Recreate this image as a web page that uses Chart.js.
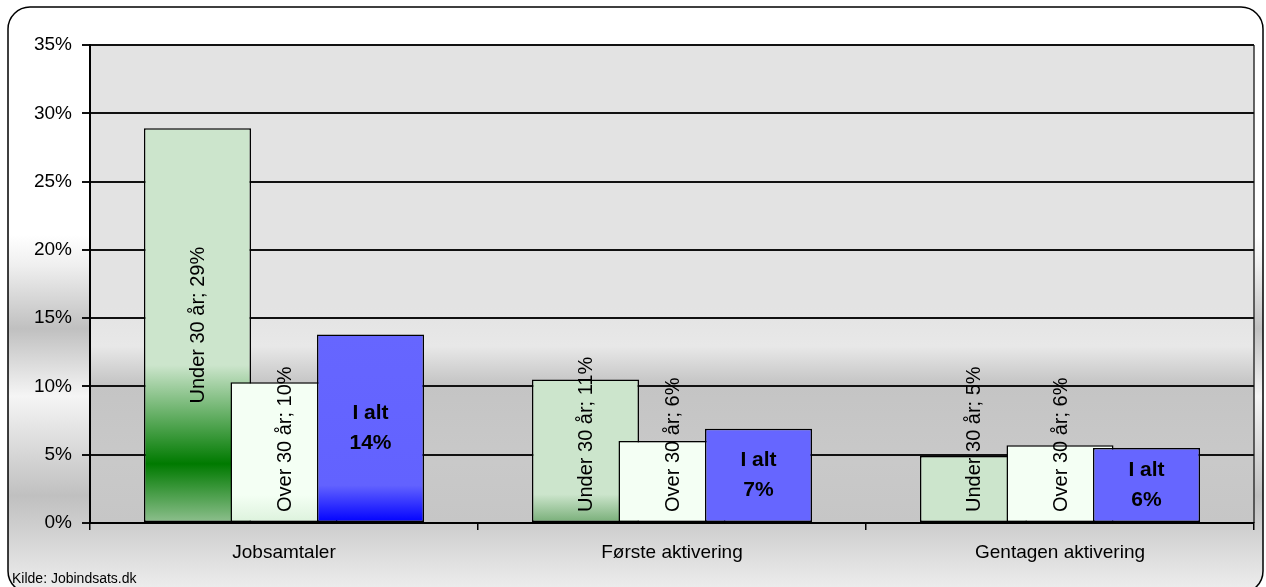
<!DOCTYPE html>
<html>
<head>
<meta charset="utf-8">
<script src="https://cdn.jsdelivr.net/npm/chart.js@4.4.0/dist/chart.umd.min.js"></script>
<style>
  html, body { margin: 0; padding: 0; background: #fff; }
  #wrap { width: 1266px; height: 587px; }
</style>
</head>
<body>
<div id="wrap"><canvas id="chart" width="1266" height="587"></canvas></div>
<script>
// data
const categories = ['Jobsamtaler', 'Første aktivering', 'Gentagen aktivering'];
const seriesNames = ['Under 30 år', 'Over 30 år', 'I alt'];
const under30 = [28.9, 10.5, 4.9];
const over30 = [10.3, 6.0, 5.7];
const total = [13.8, 6.9, 5.5];
const yTicks = [0, 5, 10, 15, 20, 25, 30, 35];
const source = 'Kilde: Jobindsats.dk';

const FONT = '"Liberation Sans", Arial, sans-serif';

// gradient stops per bar (style only)
const underStops = [
  [[0, '#cce5cc'], [0.6, '#cce5cc'], [0.85, '#007a00'], [1, '#8fc08f']],
  [[0, '#cce5cc'], [0.8, '#cce5cc'], [1, '#76ad76']],
  [[0, '#cce5cc'], [1, '#cce5cc']]
];
const overStops = [
  [[0, '#f4fff4'], [0.8, '#f4fff4'], [1, '#dcf2dc']],
  [[0, '#f4fff4'], [1, '#f4fff4']],
  [[0, '#f4fff4'], [1, '#f4fff4']]
];
const totalStops = [
  [[0, '#6666ff'], [0.8, '#6262ff'], [1, '#0000ff']],
  [[0, '#6666ff'], [1, '#6666ff']],
  [[0, '#6666ff'], [1, '#6666ff']]
];

function barFill(stops) {
  return ctx => {
    const y = ctx.chart.scales.y;
    const fallback = stops[0][0][1];
    if (!y || !ctx.parsed) return fallback;
    const top = y.getPixelForValue(ctx.parsed.y);
    const base = y.getPixelForValue(0);
    if (!isFinite(top) || !isFinite(base) || top === base) return fallback;
    const g = ctx.chart.ctx.createLinearGradient(0, top, 0, base);
    stops[ctx.dataIndex].forEach(([o, c]) => g.addColorStop(o, c));
    return g;
  };
}

function roundRectPath(c, x, y, w, h, r) {
  c.beginPath();
  c.moveTo(x + r, y);
  c.lineTo(x + w - r, y);
  c.arcTo(x + w, y, x + w, y + r, r);
  c.lineTo(x + w, y + h - r);
  c.arcTo(x + w, y + h, x + w - r, y + h, r);
  c.lineTo(x + r, y + h);
  c.arcTo(x, y + h, x, y + h - r, r);
  c.lineTo(x, y + r);
  c.arcTo(x, y, x + r, y, r);
  c.closePath();
}

const backgrounds = {
  id: 'backgrounds',
  beforeDraw(chart) {
    const c = chart.ctx;
    const a = chart.chartArea;
    c.save();
    c.fillStyle = '#fff';
    c.fillRect(0, 0, chart.width, chart.height);
    roundRectPath(c, 8, 7, 1255, 586, 22);
    const g = c.createLinearGradient(0, 0, 0, 587);
    g.addColorStop(0, '#ffffff');
    g.addColorStop(0.40, '#ffffff');
    g.addColorStop(0.45, '#f0f0f0');
    g.addColorStop(0.56, '#c0c0c0');
    g.addColorStop(0.675, '#f5f5f5');
    g.addColorStop(0.845, '#c0c0c0');
    g.addColorStop(1, '#ececec');
    c.fillStyle = g;
    c.fill();
    // plot area
    const p = c.createLinearGradient(0, a.top, 0, a.bottom);
    p.addColorStop(0, '#e3e3e3');
    p.addColorStop(0.55, '#e3e3e3');
    p.addColorStop(0.63, '#e8e8e8');
    p.addColorStop(0.71, '#c4c4c4');
    p.addColorStop(0.87, '#c9c9c9');
    p.addColorStop(1, '#c6c6c6');
    c.fillStyle = p;
    c.fillRect(a.left, a.top, a.right - a.left, a.bottom - a.top);
    c.strokeStyle = '#333';
    c.lineWidth = 1.5;
    c.beginPath();
    c.moveTo(a.right, a.top);
    c.lineTo(a.right, a.bottom);
    c.stroke();
    c.restore();
  },
  // draw left series first so that later series overlap it
  beforeDatasetsDraw(chart) {
    for (let i = 0; i < chart.data.datasets.length; i++) {
      chart.getDatasetMeta(i).controller.draw();
    }
    return false;
  },
  afterDraw(chart) {
    const c = chart.ctx;
    c.save();
    c.fillStyle = '#000';
    for (let d = 0; d < chart.data.datasets.length; d++) {
      const meta = chart.getDatasetMeta(d);
      meta.data.forEach((bar, i) => {
        const v = Math.round(chart.data.datasets[d].data[i]);
        if (d < 2) {
          const text = seriesNames[d] + '; ' + v + '%';
          c.font = '20px ' + FONT;
          const len = c.measureText(text).width;
          const cy = Math.min((bar.y + bar.base) / 2, bar.base - 10 - len / 2);
          c.save();
          c.translate(bar.x + 1, cy);
          c.rotate(-Math.PI / 2);
          c.textAlign = 'center';
          c.textBaseline = 'middle';
          c.fillText(text, 0, 0);
          c.restore();
        } else {
          const cy = (bar.y + bar.base) / 2;
          c.font = 'bold 21px ' + FONT;
          c.textAlign = 'center';
          c.textBaseline = 'middle';
          c.fillText(seriesNames[d], bar.x, cy - 15);
          c.fillText(v + '%', bar.x, cy + 15);
        }
      });
    }
    // outer frame
    roundRectPath(c, 8, 7, 1255, 586, 22);
    c.strokeStyle = '#000';
    c.lineWidth = 1.5;
    c.stroke();
    c.font = '14px ' + FONT;
    c.textAlign = 'left';
    c.textBaseline = 'alphabetic';
    c.fillText(source, 12, 583);
    c.restore();
  }
};

const datasetStyle = {
  borderColor: '#000',
  borderWidth: 1.5,
  borderSkipped: false,
  categoryPercentage: 0.669,
  barPercentage: 1.237
};

new Chart(document.getElementById('chart'), {
  type: 'bar',
  data: {
    labels: categories,
    datasets: [
      Object.assign({ label: seriesNames[0], data: under30, backgroundColor: barFill(underStops) }, datasetStyle),
      Object.assign({ label: seriesNames[1], data: over30, backgroundColor: barFill(overStops) }, datasetStyle),
      Object.assign({ label: seriesNames[2], data: total, backgroundColor: barFill(totalStops) }, datasetStyle)
    ]
  },
  options: {
    responsive: false,
    animation: false,
    layout: { padding: { left: 10, right: 12, top: 45, bottom: 0 } },
    plugins: { legend: { display: false }, tooltip: { enabled: false } },
    scales: {
      y: {
        min: 0,
        max: 35,
        afterBuildTicks: s => { s.ticks = yTicks.map(v => ({ value: v })); },
        afterFit: s => { s.width = 80; },
        ticks: { callback: v => v + '%', color: '#000', font: { family: FONT, size: 19 }, padding: 10 },
        grid: { color: '#111', lineWidth: 2, tickLength: 8 },
        border: { color: '#000', width: 2 }
      },
      x: {
        afterFit: s => { s.height = 64; },
        ticks: { color: '#000', font: { family: FONT, size: 19 }, padding: 11 },
        grid: { offset: true, drawOnChartArea: false, color: '#000', lineWidth: 1.5, tickLength: 7 },
        border: { color: '#000', width: 2 }
      }
    }
  },
  plugins: [backgrounds]
});
</script>
</body>
</html>
